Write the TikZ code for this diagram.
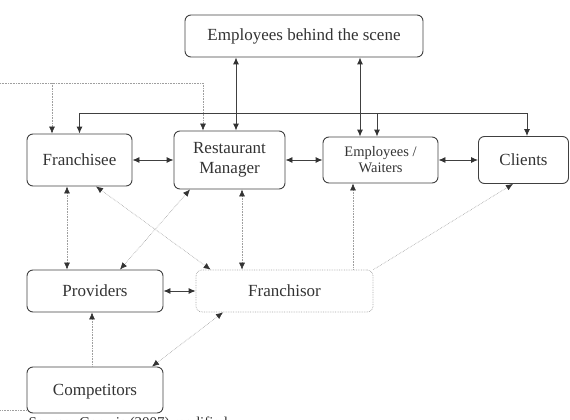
\documentclass[tikz,border=0pt]{standalone}
\usepackage{fontspec}
\setmainfont{Liberation Serif}
\usepackage{tikz}
\usetikzlibrary{arrows.meta,calc,positioning}
\tikzset{%
	block/.style    = {draw=black!75, line width=0.9pt, rectangle, rounded corners=6pt, align=center, text=black!80, font=\fontsize{17}{20}\selectfont},
	dotblock/.style = {block, draw=gray!70, line width=0.7pt, densely dotted},
	link/.style     = {<->, draw=black!75, line width=0.9pt},
	dlink/.style    = {<->, draw=gray!75, line width=0.6pt, densely dotted},
	waypoint/.style = {coordinate},
}

\begin{document}
\begin{tikzpicture}[x=1pt,y=-1pt,node distance=150pt,>={Latex[length=7pt,width=6pt,color=black!80]}]
	\useasboundingbox (0,0) rectangle (570,420);
	\node [block,minimum width=238pt,minimum height=42pt] (ebts) at (304,36) {Employees behind the scene};
	\node [block,minimum width=105pt,minimum height=52pt] (fse) at (79.5,160) {Franchisee};
	\node [block,minimum width=111pt,minimum height=58pt] (rm) [right of=fse,node distance=150pt] {Restaurant\\Manager};
	\node [block,minimum width=115pt,minimum height=46pt,font=\fontsize{14.5}{16}\selectfont] (ew) [right of=rm,node distance=151pt] {Employees /\\Waiters};
	\node [block,minimum width=90pt,minimum height=47pt] (cl) [right of=ew,node distance=143pt] {Clients};
	\node [block,minimum width=136pt,minimum height=42pt,text depth=-2pt] (prov) at (95,291) {Providers};
	\node [dotblock,minimum width=177pt,minimum height=42pt,text depth=-2pt] (fsor) [right of=prov,node distance=189.5pt] {Franchisor};
	\node [block,minimum width=136pt,minimum height=46pt,text depth=-2pt] (comp) [below of=prov,node distance=99pt] {Competitors};
	\node [anchor=base west,text=black!80,font=\fontsize{15}{18}\selectfont] (src) at (25,427) {Source: Gervais (2007) modified};
	\coordinate (bus) at (0,113);
	\coordinate (ltop) at (0,83);
	\coordinate (lbot) at (0,410);
	
	% solid links
	\draw[link] ([xshift=6.5pt]rm.north) -- ([xshift=6.5pt]rm.north |- ebts.south);
	\draw[link] ([xshift=-20.5pt]ew.north) -- ([xshift=-20.5pt]ew.north |- ebts.south);
	\draw[link] (fse.north) |- ([xshift=3.5pt]cl.north |- bus) -- ([xshift=3.5pt]cl.north);
	\draw[link,<-] ([xshift=-3.5pt]ew.north) -- ([xshift=-3.5pt]ew.north |- bus);
	\draw[link] (fse) -- (rm);
	\draw[link] (rm) -- (ew);
	\draw[link] (ew) -- (cl);
	\draw[link] (prov) -- (fsor);
	
	% dotted links
	\draw[dlink] ([xshift=-12.5pt]fse.south) -- ([xshift=-12.5pt]fse.south |- prov.north);
	\draw[dlink] ([xshift=16.5pt]fse.south) -- ([xshift=15pt]fsor.north west);
	\draw[dlink] ([xshift=-39.5pt]rm.south) -- ([xshift=25pt]prov.north);
	\draw[dlink] ([xshift=12.5pt]rm.south) -- ([xshift=12.5pt]rm.south |- fsor.north);
	\draw[dlink,<-] ([xshift=-27.5pt]ew.south) -- ([xshift=-27.5pt]ew.south |- fsor.north);
	\draw[dlink,<-] ([xshift=-10.5pt]cl.south) -- (fsor.north east);
	\draw[dlink,<-] ([xshift=-3pt]prov.south) -- ([xshift=-3pt]comp.north);
	\draw[dlink] ([xshift=57pt]comp.north) -- ([xshift=-61.5pt]fsor.south);
	\draw[dlink,->] (ltop) -| ([xshift=-26.5pt]rm.north);
	\draw[dlink,->] ([xshift=-27.5pt]fse.north |- ltop) -- ([xshift=-27.5pt]fse.north);
	\draw[dlink,-] ([yshift=3pt]comp.south west) -- ([yshift=3pt]comp.south west -| lbot);
	
\end{tikzpicture}
\end{document}
